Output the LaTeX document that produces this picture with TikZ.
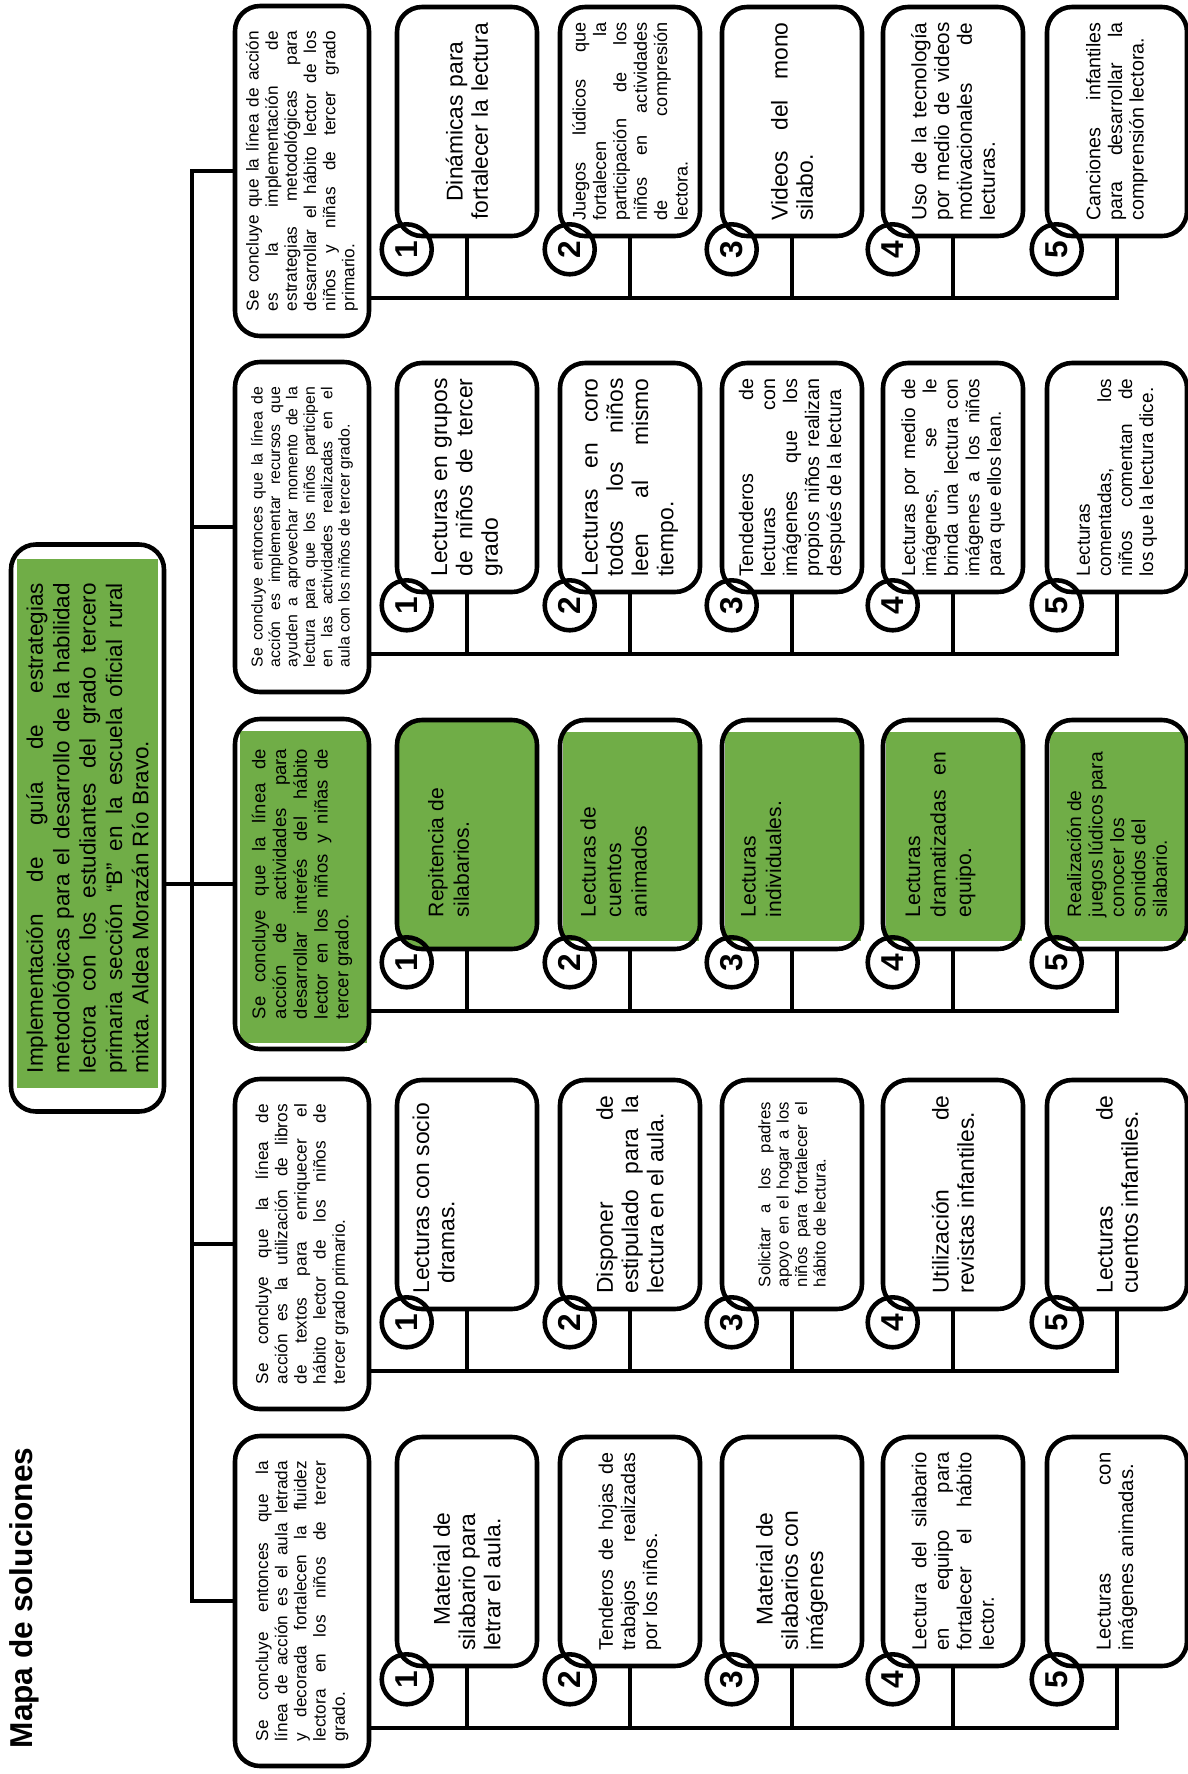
\documentclass[tikz,border=0pt]{standalone}
\usepackage{fontspec}
\setmainfont{Liberation Sans}
\usetikzlibrary{positioning, calc, backgrounds}
\definecolor{solgreen}{RGB}{112,173,71}
\tolerance=10000
\hyphenpenalty=10000
\hbadness=10000

\begin{document}
\begin{tikzpicture}[
  x=0.2mm, y=-0.2mm,
  box/.style={draw, line width=2.6pt, rounded corners=5mm, rotate=90, align=justify, inner sep=0pt},
  mainbox/.style={box, minimum width=113.4mm, minimum height=30.6mm, text width=98mm, font=\fontsize{12.8}{15}\selectfont},
  concl/.style={box, minimum width=66mm, minimum height=26.8mm, text width=56mm, font=\fontsize{9.8}{10.9}\selectfont},
  leaf/.style={box, minimum width=45.8mm, minimum height=28mm, text width=39.6mm, font=\fontsize{13}{14.4}\selectfont},
  greenleaf/.style={leaf, text width=33mm, font=\fontsize{12}{14.5}\selectfont},
  fs/.style 2 args={font=\fontsize{#1}{#2}\selectfont},
  num/.style={circle, draw, line width=2.6pt, minimum size=10mm, inner sep=0pt, rotate=90, font=\fontsize{18}{18}\bfseries},
  link/.style={line width=2.2pt, line cap=rect},
  title/.style={rotate=90, font=\fontsize{18}{18}\bfseries}
]
  \useasboundingbox (0,0) rectangle (1188,1774);

  % Title and main box
  \node[title] (title) at (24,1598) {Mapa de soluciones};
  \node[mainbox] (main) at (87.5,828) {Implementación de guía de estrategias\linebreak metodológicas para el desarrollo de la habilidad\linebreak lectora con los estudiantes del grado tercero\linebreak primaria sección “B” en la escuela oficial rural\linebreak mixta. Aldea Morazán Río Bravo.};
  \coordinate (trunk) at (192,0);

  % Group A
  \node[concl] (cA) at (302,171) {Se concluye que la línea de acción\linebreak es la implementación de\linebreak estrategias metodológicas para\linebreak desarrollar el hábito lector de los\linebreak niños y niñas de tercer grado\linebreak primario.};
  \node[leaf, align=center] (lA1) at (467,121.5) {Dinámicas para\\fortalecer la lectura};
  \node[leaf, fs={10.3}{11.6}] (lA2) at (630,121.5) {Juegos lúdicos que\linebreak fortalecen la\linebreak participación de los\linebreak niños en actividades\linebreak de compresión\linebreak lectora.};
  \node[leaf] (lA3) at (792,121.5) {Videos del mono\linebreak silabo.};
  \node[leaf, fs={11.8}{13}] (lA4) at (953,121.5) {Uso de la tecnología\linebreak por medio de videos\linebreak motivacionales de\linebreak lecturas.};
  \node[leaf, fs={11.2}{12.3}] (lA5) at (1117,121.5) {Canciones infantiles\linebreak para desarrollar la\linebreak comprensión lectora.};

  % Group B
  \node[concl, fs={9}{9.9}] (cB) at (302,527) {Se concluye entonces que la línea de\linebreak acción es implementar recursos que\linebreak ayuden a aprovechar momento de la\linebreak lectura para que los niños participen\linebreak en las actividades realizadas en el\linebreak aula con los niños de tercer grado.};
  \node[leaf] (lB1) at (467,477.5) {Lecturas en grupos\linebreak de niños de tercer\linebreak grado};
  \node[leaf] (lB2) at (630,477.5) {Lecturas en coro\linebreak todos los niños\linebreak leen al mismo\linebreak tiempo.};
  \node[leaf, fs={11.2}{12.5}] (lB3) at (792,477.5) {Tendederos de\linebreak lecturas con\linebreak imágenes que los\linebreak propios niños realizan\linebreak después de la lectura};
  \node[leaf, fs={10.8}{12.2}] (lB4) at (953,477.5) {Lecturas por medio de\linebreak imágenes, se le\linebreak brinda una lectura con\linebreak imágenes a los niños\linebreak para que ellos lean.};
  \node[leaf, fs={10.8}{12}] (lB5) at (1117,477.5) {Lecturas\\comentadas, los\linebreak niños comentan de\linebreak los que la lectura dice.};

  % Group C (green)
  \node[concl, text width=54mm, fs={10.5}{11.8}] (cC) at (302,884) {Se concluye que la línea de\linebreak acción de actividades para\linebreak desarrollar interés del hábito\linebreak lector en los niños y niñas de\linebreak tercer grado.};
  \node[greenleaf, fill=solgreen] (lC1) at (467,834.5) {Repitencia de\\silabarios.\par\rule{0pt}{7mm}};
  \node[greenleaf] (lC2) at (630,834.5) {Lecturas de\\cuentos\\animados\par\rule{0pt}{6.2mm}};
  \node[greenleaf] (lC3) at (792,834.5) {Lecturas\\individuales.\par\rule{0pt}{12mm}};
  \node[greenleaf] (lC4) at (953,834.5) {Lecturas\\dramatizadas en\linebreak equipo.\par\rule{0pt}{4.6mm}};
  \node[greenleaf, fs={11}{12.2}] (lC5) at (1117,834.5) {Realización de\\juegos lúdicos para\\conocer los\\sonidos del\\silabario.};

  % Group D
  \node[concl] (cD) at (302,1244) {Se concluye que la línea de\linebreak acción es la utilización de libros\linebreak de textos para enriquecer el\linebreak hábito lector de los niños de\linebreak tercer grado primario.};
  \node[leaf] (lD1) at (467,1194.5) {Lecturas con socio\\\hspace*{2mm}dramas.\par\rule{0pt}{13mm}};
  \node[leaf] (lD2) at (630,1194.5) {Disponer de\linebreak estipulado para la\linebreak lectura en el aula.};
  \node[leaf, text width=37mm, fs={9.5}{10.5}] (lD3) at (792,1194.5) {Solicitar a los padres\linebreak apoyo en el hogar a los\linebreak niños para fortalecer el\linebreak hábito de lectura.};
  \node[leaf] (lD4) at (953,1194.5) {Utilización de\linebreak revistas infantiles.};
  \node[leaf] (lD5) at (1117,1194.5) {Lecturas de\linebreak cuentos infantiles.};

  % Group E
  \node[concl] (cE) at (302,1601) {Se concluye entonces que la\linebreak línea de acción es el aula letrada\linebreak y decorada fortalecen la fluidez\linebreak lectora en los niños de tercer\linebreak grado.};
  \node[leaf] (lE1) at (467,1551.5) {\hspace*{5mm}Material de\\silabario para\\letrar el aula.};
  \node[leaf, fs={11.2}{12.6}] (lE2) at (630,1551.5) {Tenderos de hojas de\linebreak trabajos realizadas\linebreak por los niños.};
  \node[leaf] (lE3) at (792,1551.5) {\hspace*{5mm}Material de\\silabarios con\\imágenes};
  \node[leaf, fs={11.5}{12.8}] (lE4) at (953,1551.5) {Lectura del silabario\linebreak en equipo para\linebreak fortalecer el hábito\linebreak lector.};
  \node[leaf, fs={11.5}{12.8}] (lE5) at (1117,1551.5) {Lecturas con\linebreak imágenes animadas.};

  % Connectors
  \draw[link] (cA.north -| trunk) -- (cE.north -| trunk);
  \draw[link] (main.south |- cC.north) -- (cC.north -| trunk);
  \foreach \g in {A,B,C,D,E} {
    \draw[link] (c\g.north -| trunk) -- (c\g.north);
    \coordinate (comb\g) at ($(l\g1.west)+(0,60)$);
    \draw[link] (c\g.south |- comb\g) -- (comb\g -| l\g5.west) -- (l\g5.west);
    \foreach \i in {1,...,4}
      \draw[link] (l\g\i.west) -- (l\g\i.west |- comb\g);
    \foreach \i in {1,...,5}
      \node[num] (n\g\i) at ($(l\g\i.north west)+(12,11)$) {\i};
  }

  % Green fills
  \begin{scope}[on background layer]
    \fill[white] (0,0) rectangle (1188,1774);
    \fill[solgreen] ($(main.north east)+(8,17)$) rectangle ($(main.south west)+(-8,-26)$);
    \fill[solgreen] ($(cC.north east)+(7,14)$) rectangle ($(cC.south west)+(-4,-8)$);
    \foreach \i in {2,...,5}
      \fill[solgreen] ($(lC\i.north east)+(5,14)$) rectangle ($(lC\i.south west)+(-3,-10)$);
  \end{scope}
\end{tikzpicture}
\end{document}
